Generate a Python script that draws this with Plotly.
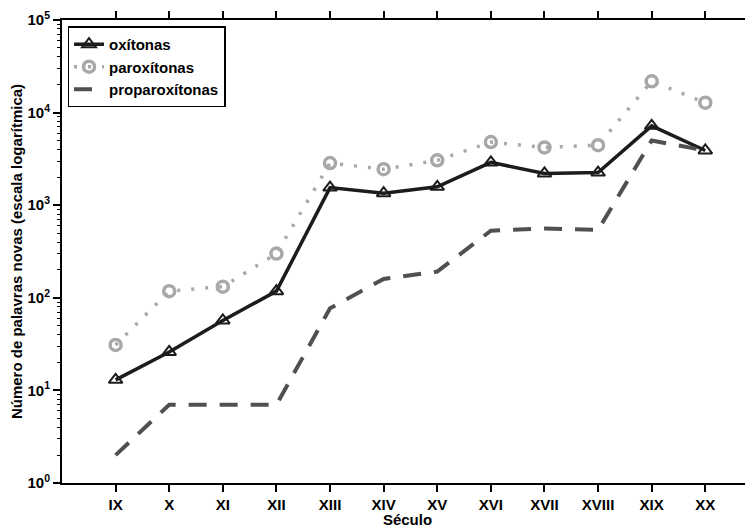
import plotly.graph_objects as go

seculos = ["IX", "X", "XI", "XII", "XIII", "XIV", "XV", "XVI", "XVII", "XVIII", "XIX", "XX"]
oxitonas = [13, 26, 57, 118, 1550, 1350, 1580, 2900, 2200, 2250, 7200, 3900]
paroxitonas = [31, 118, 132, 300, 2850, 2450, 3050, 4800, 4200, 4450, 21800, 12800]
proparoxitonas = [2, 7, 7, 7, 77, 160, 192, 530, 560, 540, 5000, 3900]

ytick_vals = [1, 10, 100, 1000, 10000, 100000]
ytick_text = ["10<sup>0</sup>", "10<sup>1</sup>", "10<sup>2</sup>", "10<sup>3</sup>", "10<sup>4</sup>", "10<sup>5</sup>"]
minor_vals = [m * 10 ** e for e in range(5) for m in range(2, 10)]

xpos = list(range(1, len(seculos) + 1))
FONT = "Liberation Sans, Arial, sans-serif"

fig = go.Figure()
fig.add_trace(go.Scatter(
    x=xpos, y=oxitonas, name="oxítonas", mode="lines+markers",
    line=dict(color="#1c1c1c", width=3.5),
    marker=dict(symbol="triangle-up-open", size=12, color="#1c1c1c", line=dict(width=2, color="#1c1c1c")),
))
fig.add_trace(go.Scatter(
    x=xpos, y=paroxitonas, name="paroxítonas", mode="lines+markers",
    line=dict(color="#a8a8a8", width=3.5, dash="3px,11px"),
    marker=dict(symbol="circle-open", size=11, color="#a8a8a8", line=dict(width=3.5, color="#a8a8a8")),
))
fig.add_trace(go.Scatter(
    x=xpos, y=proparoxitonas, name="proparoxítonas", mode="lines",
    line=dict(color="#505050", width=4, dash="18px,13px"),
))
# invisible trace for minor ticks axis
fig.add_trace(go.Scatter(x=[1], y=[1], yaxis="y2", showlegend=False, hoverinfo="skip",
                         mode="markers", marker=dict(opacity=0)))

fig.update_layout(
    width=745, height=520,
    margin=dict(l=54, r=0, t=12, b=45),
    paper_bgcolor="white", plot_bgcolor="white",
    font=dict(family=FONT, size=14, color="black", weight="bold"),
    xaxis=dict(
        range=[0, 12.89], tickvals=xpos, ticktext=seculos,
        showgrid=False, zeroline=False,
        showline=True, linecolor="black", linewidth=2, mirror="ticks",
        ticks="outside", ticklen=7, tickwidth=1.5, tickcolor="black",
        tickfont=dict(family=FONT, size=15, weight="bold"),
        title=dict(text="Século", font=dict(family=FONT, size=15, weight="bold"), standoff=2),
    ),
    yaxis=dict(
        type="log", range=[0, 5], tickvals=ytick_vals, ticktext=ytick_text,
        showgrid=False, zeroline=False,
        showline=True, linecolor="black", linewidth=2,
        ticks="outside", ticklen=7, tickwidth=1.5, tickcolor="black",
        tickfont=dict(family=FONT, size=15, weight="bold"),
        title=dict(text="Número de palavras novas (escala logarítmica)",
                   font=dict(family=FONT, size=15, weight="bold"), standoff=4),
    ),
    yaxis2=dict(
        type="log", range=[0, 5], overlaying="y", side="left", anchor="x",
        tickvals=minor_vals, showticklabels=False, showgrid=False, zeroline=False,
        showline=False, ticks="outside", ticklen=4, tickwidth=1.2, tickcolor="black",
    ),
    legend=dict(
        x=0.008, y=0.986, xanchor="left", yanchor="top",
        bgcolor="white", bordercolor="black", borderwidth=1.5,
        font=dict(family=FONT, size=15, weight="bold"),
        tracegroupgap=0, itemwidth=30,
    ),
    showlegend=True,
)

fig.write_html("out.html")
